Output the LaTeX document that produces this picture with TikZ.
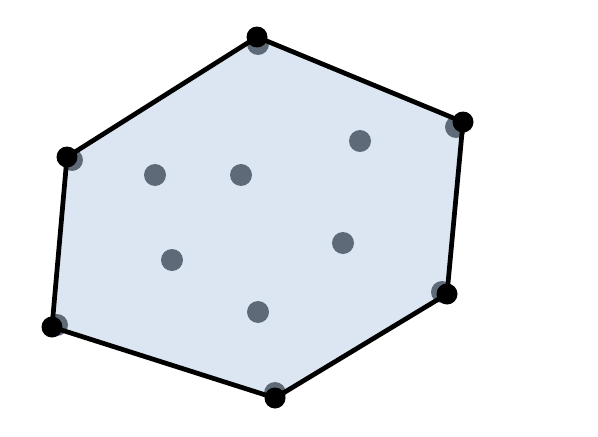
\documentclass[tikz,border=0pt]{standalone}
\usepackage{tikz}
\definecolor{hullfill}{RGB}{220,230,242}
\definecolor{ptgray}{RGB}{94,106,120}
\begin{document}
\begin{tikzpicture}[x=0.02cm,y=-0.02cm]
    \tikzstyle{point} = [circle, fill=ptgray, inner sep=0pt, minimum size=0.44cm]
    \tikzstyle{vertex} = [circle, fill=black, inner sep=0pt, minimum size=0.42cm]
    \tikzstyle{edge} = [line width=2.7pt, line join=round]

    \useasboundingbox (0,0) rectangle (598,436);

    % hull corners
    \coordinate (a) at (257,37);
    \coordinate (b) at (463,122);
    \coordinate (c) at (447,294);
    \coordinate (d) at (275,398);
    \coordinate (e) at (52,327);
    \coordinate (f) at (67,157);

    \fill [hullfill] (a) -- (b) -- (c) -- (d) -- (e) -- (f) -- cycle;

    % point set
    \node [point] (p1) at (155,175) {};
    \node [point] (p2) at (241,175) {};
    \node [point] (p3) at (360,141) {};
    \node [point] (p4) at (172,260) {};
    \node [point] (p5) at (343,243) {};
    \node [point] (p6) at (258,312) {};
    \node [point] (q1) at (258,44) {};
    \node [point] (q2) at (456,127) {};
    \node [point] (q3) at (442,292) {};
    \node [point] (q4) at (275,393) {};
    \node [point] (q5) at (57,325) {};
    \node [point] (q6) at (72,160) {};

    \draw [edge] (a) -- (b) -- (c) -- (d) -- (e) -- (f) -- cycle;

    \node [vertex] (va) at (a) {};
    \node [vertex] (vb) at (b) {};
    \node [vertex] (vc) at (c) {};
    \node [vertex] (vd) at (d) {};
    \node [vertex] (ve) at (e) {};
    \node [vertex] (vf) at (f) {};
\end{tikzpicture}
\end{document}
